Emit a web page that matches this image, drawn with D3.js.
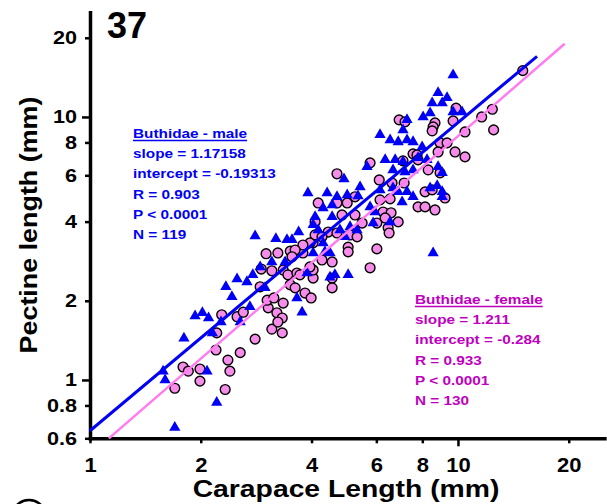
<!DOCTYPE html>
<html lang="en">
<head>
<meta charset="UTF-8">
<title>Pectine vs carapace length</title>
<script src="https://d3js.org/d3.v7.min.js"></script>
<style>
    body { margin: 0; background: #fff; }
    svg { font-family: "Liberation Sans", Arial, sans-serif; font-weight: bold; }
</style>
</head>
<body>
<svg id="viz" width="607" height="504"></svg>
<script>
    var xTicks = [1, 2, 4, 6, 8, 10, 20];
    var yTicks = [0.6, 0.8, 1, 2, 4, 6, 8, 10, 20];

    // [carapace length, pectine length] in mm
    var males = [
        [1.58,1.08],[1.60,1.00],[1.70,0.66],[2.21,0.82],[2.08,1.08],[1.80,1.44],[1.93,1.75],[2.02,1.80],
        [2.10,1.72],[2.27,1.66],[2.56,1.66],[2.72,1.90],[2.15,1.51],[2.34,2.26],[2.43,2.07],[2.51,2.42],
        [2.67,2.36],[2.77,2.51],[2.99,2.24],[2.81,3.53],[3.20,3.44],[3.43,3.41],[3.54,3.41],[3.69,3.65],
        [2.90,2.69],[3.12,2.81],[3.39,2.81],[4.04,3.04],[3.65,2.05],[3.77,1.81],[3.89,2.55],
        [6.34,6.87],[6.75,6.87],[7.18,6.18],[4.90,5.81],[3.91,5.14],[4.41,5.14],[4.69,4.97],[5.00,5.05],
        [5.42,5.42],[5.35,5.01],[4.30,4.51],[4.55,4.63],
        [4.09,4.17],[4.55,4.17],[4.04,3.89],[4.17,3.72],[6.54,3.99],[5.09,3.82],[5.32,3.72],[4.78,3.72],
        [4.93,3.50],[4.30,3.32],[4.35,3.07],
        [4.49,3.04],[4.63,2.51],[5.03,2.51],[4.49,2.46],
        [9.70,14.45],[8.83,12.35],[9.34,11.82],[8.51,11.31],[9.06,11.31],[8.40,10.36],[8.04,10.0],
        [9.70,10.45],[10.26,10.45],[7.27,9.75],[7.09,8.93],[6.14,8.55],[6.54,8.18],[6.88,8.04],
        [7.27,8.18],[7.55,8.04],[7.99,7.69],
        [7.79,6.99],[8.24,6.87],
        [7.09,6.75],[6.66,6.29],[7.55,6.29],[8.83,6.46],[9.06,6.13],
        [6.14,5.28],[6.66,5.37],[6.88,5.19],[7.27,5.19],[7.55,4.97],[8.40,5.37],[8.78,5.47],
        [9.06,5.19],[9.06,4.97],[7.05,4.75],[5.77,4.55],[5.95,4.35],[5.88,3.95],
        [8.56,3.04],[5.66,6.46]
    ];

    var females = [
        [1.70,0.93],[1.79,1.12],[1.85,1.08],[1.99,1.10],[1.99,0.99],[2.20,1.30],[2.21,1.51],[2.28,1.77],
        [2.37,1.19],[2.40,1.08],[2.33,0.92],[2.56,1.27],[2.51,1.74],[2.61,1.81],[2.81,1.43],[3.12,1.56],
        [3.33,1.51],[3.05,1.88],[3.22,1.80],[3.33,1.72],[3.24,1.66],[3.03,2.01],[3.16,2.05],[3.35,1.96],
        [2.90,2.26],[3.50,2.30],[3.61,2.24],[3.84,2.14],[3.99,2.05],[4.04,2.44],[4.04,2.62],[3.01,3.02],
        [3.24,3.04],[3.50,3.09],[3.79,3.04],[4.04,3.32],[2.92,2.64],[3.12,2.60],[3.35,2.62],[3.45,2.51],
        [4.09,3.99],
        [5.77,6.69],[7.09,6.81],[7.55,7.24],[4.69,6.08],[6.11,5.76],[4.17,4.71],[4.69,4.71],[5.00,4.71],
        [5.25,4.97],[6.62,5.61],[7.14,5.61],[6.14,4.84],[6.54,4.88],[4.84,4.24],[5.25,4.24],[6.26,4.35],
        [6.58,4.32],[6.88,3.99],[6.02,3.95],[5.49,3.95],[6.46,3.79],[6.50,3.62],[5.09,3.56],[5.32,3.50],
        [4.44,3.65],[4.69,3.62],[4.09,3.56],[4.27,3.50],[3.96,3.32],[3.79,3.26],[5.03,3.20],[5.03,3.07],
        [6.02,3.15],[3.61,3.12],[3.54,2.94],[4.27,2.86],[4.55,2.81],[5.77,2.67],[3.96,2.69],[3.65,2.55],
        [3.72,2.51],[4.55,2.44],[4.55,2.24],
        [15.0,15.0],[9.88,10.8],[12.4,10.7],[11.6,10.0],[12.5,8.93],[6.92,9.75],[7.18,9.58],[8.66,9.49],
        [8.56,9.17],[8.51,8.85],[9.70,9.66],[10.45,8.77],[8.94,7.97],[9.34,7.97],[9.82,7.36],[10.45,7.05],
        [8.83,7.36],[7.74,7.17],[7.79,6.87],[8.30,6.29],[8.94,6.13],[8.14,5.19],[8.51,5.28],[9.22,4.92],
        [7.79,4.55],[8.14,4.55],[8.66,4.43],[6.34,4.13]
    ];

    // log10(PL) = slope * log10(CL) + intercept
    var maleFit = {slope: 1.17158, intercept: -0.19313, from: 1, to: 16.4};
    var femaleFit = {slope: 1.211, intercept: -0.284, from: 1.125, to: 19.5};

    var maleText = ["Buthidae - male", "slope = 1.17158", "intercept = -0.19313", "R = 0.903", "P < 0.0001", "N = 119"];
    var femaleText = ["Buthidae - female", "slope = 1.211", "intercept = -0.284", "R = 0.933", "P < 0.0001", "N = 130"];

    var blue = "#0000f5";
    var magenta = "#c000c0";

    var svg = d3.select("#viz");

    var x = d3.scaleLog().domain([1, 25]).range([90, 604.4]);
    var y = d3.scaleLog().domain([0.6, 25]).range([438.3, 12.3]);

    // axes
    var yAxis = d3.axisLeft(y)
        .tickValues(yTicks)
        .tickFormat(d3.format(""))
        .tickSize(5)
        .tickSizeOuter(0)
        .tickPadding(9);
    var gy = svg.append("g")
        .attr("transform", "translate(90,0)")
        .call(yAxis)
        .attr("font-family", null)
        .attr("font-size", 18);
    gy.select(".domain").attr("stroke", "#000").attr("stroke-width", 3.5).attr("stroke-linecap", "square");
    gy.selectAll(".tick line").attr("stroke", "#000").attr("stroke-width", 2.5)
        .attr("x2", function(d) { return (d === 1 || d === 10) ? -8 : -5; });
    gy.selectAll(".tick text").attr("fill", "#000")
        .attr("transform", "translate(-13,0) scale(1.2,1)")
        .attr("x", 0);

    var xAxis = d3.axisBottom(x)
        .tickValues(xTicks)
        .tickFormat(d3.format(""))
        .tickSize(5)
        .tickSizeOuter(0)
        .tickPadding(14);
    var gx = svg.append("g")
        .attr("transform", "translate(0,438.3)")
        .call(xAxis)
        .attr("font-family", null)
        .attr("font-size", 20);
    gx.select(".domain").attr("stroke", "#000").attr("stroke-width", 3.5).attr("stroke-linecap", "square");
    gx.selectAll(".tick line").attr("stroke", "#000").attr("stroke-width", 2.5)
        .attr("y2", function(d) { return d === 10 ? 8 : 5; });
    gx.selectAll(".tick text").attr("fill", "#000")
        .attr("transform", "translate(0,19) scale(1.1,1)")
        .attr("y", 0);

    // points
    svg.append("g").selectAll("circle")
        .data(females)
        .enter()
        .append("circle")
        .attr("cx", function(d) { return x(d[0]); })
        .attr("cy", function(d) { return y(d[1]); })
        .attr("r", 4.9)
        .attr("fill", "#f58ce9")
        .attr("stroke", "#000")
        .attr("stroke-width", 1.4);

    var tri = d3.symbol().type(d3.symbolTriangle).size(55);
    svg.append("g").selectAll("path")
        .data(males)
        .enter()
        .append("path")
        .attr("d", tri)
        .attr("transform", function(d) { return "translate(" + x(d[0]) + "," + y(d[1]) + ")"; })
        .attr("fill", blue);

    // regression lines
    function fitY(f, cl) {
        return Math.pow(10, f.slope * Math.log10(cl) + f.intercept);
    }
    [[femaleFit, "#ff7cf0", 2.5], [maleFit, blue, 3]].forEach(function(p) {
        var f = p[0];
        svg.append("line")
            .attr("x1", x(f.from)).attr("y1", y(fitY(f, f.from)))
            .attr("x2", x(f.to)).attr("y2", y(fitY(f, f.to)))
            .attr("stroke", p[1])
            .attr("stroke-width", p[2]);
    });

    // annotations
    function statsBlock(lines, left, top, color) {
        var g = svg.append("g")
            .attr("transform", "translate(" + left + "," + top + ") scale(1.18,1)")
            .attr("fill", color)
            .style("font-size", "13px");
        g.selectAll("text")
            .data(lines)
            .enter()
            .append("text")
            .attr("x", 0)
            .attr("y", function(d, i) { return i * 20.2; })
            .text(function(d) { return d; });
        var w = g.select("text").node().getComputedTextLength();
        g.append("line")
            .attr("x1", 0).attr("x2", w)
            .attr("y1", 2.6).attr("y2", 2.6)
            .attr("stroke", color)
            .attr("stroke-width", 1.5);
    }
    statsBlock(maleText, 133, 138, blue);
    statsBlock(femaleText, 415, 304, magenta);

    // titles
    svg.append("text")
        .attr("x", 107).attr("y", 38)
        .style("font-size", "36px")
        .text("37");

    svg.append("text")
        .attr("transform", "translate(37,225) rotate(-90) scale(1.12,1)")
        .attr("text-anchor", "middle")
        .style("font-size", "24px")
        .text("Pectine length (mm)");

    svg.append("text")
        .attr("transform", "translate(346,497) scale(1.18,1)")
        .attr("text-anchor", "middle")
        .style("font-size", "24px")
        .text("Carapace Length (mm)");

    // edge of the next panel's label
    svg.append("circle")
        .attr("cx", 29).attr("cy", 517).attr("r", 17)
        .attr("fill", "none")
        .attr("stroke", "#000")
        .attr("stroke-width", 2.5);
</script>
</body>
</html>
